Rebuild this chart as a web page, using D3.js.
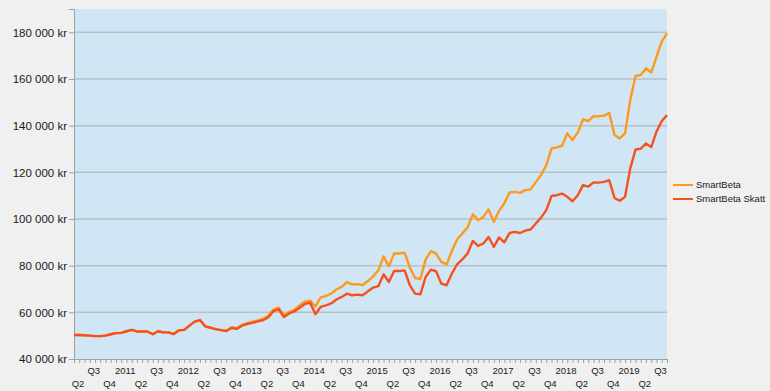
<html>
<head>
    <meta charset="utf-8">
    <title>SmartBeta</title>
    <script src="https://d3js.org/d3.v7.min.js"></script>
    <style>
        body { margin: 0; background: #f0f0f0; }
        svg text { font-family: "Liberation Sans", Arial, sans-serif; fill: #1a1a1a; }
    </style>
</head>
<body>
<div id="chart"></div>
<script>
// monthly values, April 2010 .. September 2019
const startMonth = "2010-04";

const smartBeta = [
    50300, 50300, 50200, 50000, 49800, 49800, 50000, 50600, 51100, 51200,
    51900, 52500, 51800, 51800, 51800, 50600, 51900, 51400, 51400, 50700,
    52300, 52500, 54300, 56000, 56700, 54000, 53400, 52800, 52400, 52000,
    53600, 53200, 54600, 55400, 56000, 56500, 57200, 58500, 61200, 62000,
    58600, 60200, 61100, 63000, 64600, 65000, 62500, 66400, 67000, 68000,
    69800, 70900, 72900, 72000, 72100, 71700, 73400, 75400, 78000, 84000,
    79700, 85200, 85200, 85600, 79200, 74700, 74300, 82600, 86200, 85200,
    81600, 80500, 86300, 91200, 93800, 96400, 102000, 99500, 100900, 104100,
    98800, 103500, 106700, 111400, 111600, 111200, 112400, 112700, 115800, 118800,
    123100, 130200, 130700, 131400, 136700, 133800, 137100, 142700, 142000, 144100,
    144000, 144300, 145400, 136000, 134500, 136700, 151000, 161300, 161700, 164600,
    162700, 169600, 176000, 179600
];

const smartBetaSkatt = [
    50300, 50300, 50200, 50000, 49800, 49800, 50000, 50600, 51100, 51200,
    51900, 52500, 51800, 51800, 51800, 50600, 51900, 51400, 51400, 50700,
    52300, 52500, 54300, 56000, 56700, 54000, 53400, 52800, 52400, 52000,
    53300, 52900, 54300, 55000, 55500, 56100, 56600, 57800, 60500, 61300,
    58000, 59500, 60400, 62000, 63600, 64100, 59200, 62300, 63000, 63800,
    65500, 66600, 68000, 67300, 67600, 67300, 69000, 70600, 71200, 76300,
    73000, 77700, 77700, 78000, 71600, 68000, 67700, 75100, 78300, 77600,
    72300, 71600, 76600, 80600, 82700, 85200, 90600, 88500, 89500, 92300,
    88000, 92100, 90000, 94000, 94500, 94000, 95000, 95500, 98100, 100600,
    103800, 109900, 110200, 110900, 109500, 107600, 110200, 114500, 113900, 115700,
    115600, 115900, 116600, 109000, 107800, 109500, 121700, 129800, 130100, 132400,
    130800, 137400, 142000, 144500
];

// one label per quarter, starting at Q2 2010
const quarterLabels = [
    "Q2", "Q3", "Q4",
    "2011", "Q2", "Q3", "Q4",
    "2012", "Q2", "Q3", "Q4",
    "2013", "Q2", "Q3", "Q4",
    "2014", "Q2", "Q3", "Q4",
    "2015", "Q2", "Q3", "Q4",
    "2016", "Q2", "Q3", "Q4",
    "2017", "Q2", "Q3", "Q4",
    "2018", "Q2", "Q3", "Q4",
    "2019", "Q2", "Q3"
];

const yTicks = [40000, 60000, 80000, 100000, 120000, 140000, 160000, 180000];

const seriesNames = ["SmartBeta", "SmartBeta Skatt"];
const seriesColors = ["#fc9a1e", "#f5511f"];

const width = 770, height = 391;
const margin = {top: 9, right: 103, bottom: 32, left: 74};

const svg = d3.select('#chart').append('svg')
    .attr('width', width)
    .attr('height', height);

const months = d3.range(smartBeta.length);

const x = d3.scaleLinear()
    .domain([0, months.length - 1])
    .range([margin.left, width - margin.right]);

const y = d3.scaleLinear()
    .domain([40000, 190000])
    .range([height - margin.bottom, margin.top]);

// plot area
svg.append('rect')
    .attr('x', margin.left)
    .attr('y', margin.top)
    .attr('width', width - margin.right - margin.left)
    .attr('height', height - margin.bottom - margin.top)
    .attr('fill', '#d0e6f4');

// gridlines
svg.append('g')
    .selectAll('line')
    .data(yTicks.slice(1))
    .join('line')
    .attr('x1', margin.left)
    .attr('x2', width - margin.right)
    .attr('y1', d => y(d))
    .attr('y2', d => y(d))
    .attr('stroke', '#b9c0c6')
    .attr('stroke-width', 1.5);

// y axis
const fmt = v => d3.format(',')(v).replace(/,/g, ' ') + ' kr';
const yAxis = svg.append('g')
    .attr('transform', `translate(${margin.left},0)`)
    .call(d3.axisLeft(y).tickValues(yTicks).tickFormat(fmt).tickSize(5).tickPadding(2));
yAxis.select('.domain').attr('stroke', '#a0a0a0');
yAxis.selectAll('.tick line').attr('stroke', '#a0a0a0');
yAxis.selectAll('text')
    .style('font-size', '11.5px')
    .attr('fill', '#1a1a1a');

// x axis: month ticks, quarter labels
const xAxis = svg.append('g')
    .attr('transform', `translate(0,${height - margin.bottom})`)
    .call(d3.axisBottom(x).tickValues(months).tickFormat('').tickSize(4).tickSizeOuter(0));
xAxis.select('.domain').attr('stroke', '#a0a0a0');
xAxis.selectAll('.tick line').attr('stroke', '#a0a0a0');

svg.append('g')
    .selectAll('text')
    .data(quarterLabels)
    .join('text')
    .attr('x', (d, i) => x(i * 3) + 4)
    .attr('y', (d, i) => (d.startsWith('Q') && d !== 'Q3') ? height - margin.bottom + 28 : height - margin.bottom + 15)
    .attr('text-anchor', 'middle')
    .style('font-size', '9.5px')
    .text(d => d);

// lines
const line = d3.line()
    .x((d, i) => x(i))
    .y(d => y(d));

[smartBeta, smartBetaSkatt].forEach((s, k) => {
    svg.append('path')
        .datum(s)
        .attr('fill', 'none')
        .attr('stroke', seriesColors[k])
        .attr('stroke-width', 2.4)
        .attr('stroke-linejoin', 'round')
        .attr('d', line);
});

// legend
const legend = svg.append('g')
    .attr('transform', 'translate(673,185)');
seriesNames.forEach((name, k) => {
    legend.append('line')
        .attr('x1', 0).attr('x2', 20)
        .attr('y1', k * 14).attr('y2', k * 14)
        .attr('stroke', seriesColors[k])
        .attr('stroke-width', 2);
    legend.append('text')
        .attr('x', 23)
        .attr('y', k * 14)
        .attr('dy', '0.35em')
        .style('font-size', '9.5px')
        .text(name);
});
</script>
</body>
</html>
